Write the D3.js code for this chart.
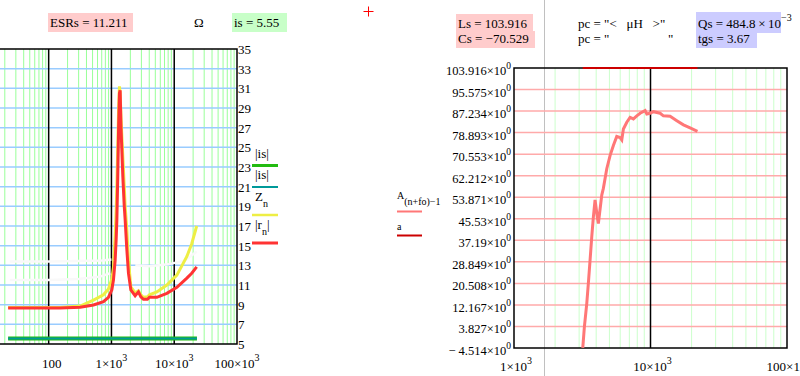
<!DOCTYPE html>
<meta charset="utf-8">
<script src="https://cdnjs.cloudflare.com/ajax/libs/d3/7.8.5/d3.min.js"></script>
<style>
body { margin: 0; background: #fff; }
svg { display: block; font-family: "Liberation Serif", "Times New Roman", serif; font-size: 13px; }
</style>
<body>
<script>

let width = 800,
    height = 376;

// left chart: impedance vs frequency
let leftFreq = [22.6, 100, 152, 317, 517, 746, 896, 1015, 1076, 1145, 1188, 1219, 1260, 1300, 1341, 1376, 1420, 1519, 1600, 1654, 1759, 1866, 2038, 2385, 2692, 2940, 3234, 3746, 4031, 5287, 7630, 11020, 15900, 19000, 22800];
let zVals = [8.7, 8.7, 8.72, 8.86, 9.47, 10.0, 10.6, 11.6, 12.8, 15.9, 18.5, 21, 25, 29, 31.2, 30.5, 28, 24, 21, 19, 16.6, 13.5, 10.8, 10.2, 10.4, 10.0, 9.75, 9.8, 10.0, 10.3, 11.0, 12.0, 13.9, 15.2, 17.0];
let rVals = [8.65, 8.65, 8.65, 8.73, 8.97, 9.3, 9.75, 10.5, 11.5, 13.5, 15.6, 17.6, 22, 27, 30.5, 30.8, 27, 22, 19, 17.6, 14.6, 12.2, 10.5, 9.9, 10.3, 9.8, 9.55, 9.55, 9.75, 9.75, 10.15, 10.77, 11.7, 12.2, 12.85];
let isFreq = [22.6, 23000];
let isVals = [5.55, 5.55];
// faint white traces
let whiteFreq = [24, 100, 300, 700, 1000, null, 2400, 4000, 8000, 15000, 22800];
let whiteVals = [13.4, 13.4, 13.45, 13.5, 13.6, null, 13.0, 12.9, 13.1, 13.5, 14.4];
let white2Freq = [24, 100, 300, 660, 955];
let white2Vals = [11.5, 11.5, 11.6, 11.85, 12.2];

let leftYTicks = [5, 7, 9, 11, 13, 15, 17, 19, 21, 23, 25, 27, 29, 31, 33, 35];
let leftXTicks = [100, 1000, 10000, 100000];
let leftXLabels = [["100", ""], ["1×10", "3"], ["10×10", "3"], ["100×10", "3"]];

// right chart
let aFreq = [3190, 3277, 3412, 3505, 3608, 3713, 3815, 3925, 4080, 4150, 4395, 4515, 4782, 5056, 5346, 5660, 5985, 6160, 6330, 6704, 7088, 7494, 7937, 8390, 9130, 9395, 9933, 10500, 11760, 12430, 13920, 15590, 17430, 19510, 22080];
let aVals = [-4.5, 3.6, 12.7, 20.5, 29.5, 38.6, 46.3, 52.8, 46.0, 43.7, 54.7, 57.3, 64.9, 70.0, 73.9, 77.4, 77.0, 76.1, 80.3, 82.9, 84.8, 84.2, 85.4, 86.4, 87.4, 86.1, 86.4, 87.0, 86.4, 85.4, 85.2, 83.5, 81.9, 80.7, 79.4];
let lineAFreq = [3190, 22080];
let lineAVals = [103.916, 103.916];

let rightYTicks = [103.916, 95.575, 87.234, 78.893, 70.553, 62.212, 53.871, 45.53, 37.19, 28.849, 20.508, 12.167, 3.827, -4.514];
let rightXTicks = [1000, 10000, 100000];
let rightXLabels = [["1×10", "3"], ["10×10", "3"], ["100×10", "3"]];

let svg = d3.select("body").append("svg")
    .attr("width", width)
    .attr("height", height);

// page break line
svg.append("line")
    .attr("x1", 544.5).attr("x2", 544.5)
    .attr("y1", 0).attr("y2", height)
    .attr("stroke", "#c0c0c0");

// ---------- header fields ----------
function field(x, y, w, h, fill, parts) {
  if (fill) svg.append("rect").attr("x", x).attr("y", y).attr("width", w).attr("height", h).attr("fill", fill);
  let t = svg.append("text").attr("x", x + 2).attr("y", y + h - 5).attr("fill", "#000")
      .attr("xml:space", "preserve").style("white-space", "pre");
  parts.forEach(p => {
    if (typeof p === "string") t.append("tspan").text(p);
    else t.append("tspan").attr("dy", -7).style("font-size", "10px").text(p.sup);
  });
}

field(48, 13, 85, 19, "#ffcccc", ["ESRs = 11.211"]);
field(192, 13, 14, 19, null, ["Ω"]);
field(232, 13, 55, 19, "#c8ffc8", ["is = 5.55"]);

// red cross
svg.append("path")
    .attr("d", "M363.5,11.5h10M368.5,6.5v10")
    .attr("stroke", "#ff0000").attr("fill", "none");

field(456, 14, 77, 19, "#ffcccc", ["Ls = 103.916"]);
field(456, 31, 79, 17, "#ffcccc", ["Cs = −70.529"]);
field(576, 14, 110, 19, null, ["pc = \"<   μH   >\""]);
field(576, 31, 110, 17, null, ["pc = \"                  \""]);
field(696, 12, 85, 21, "#ccccff", ["Qs = 484.8\u2009×\u200910", {sup: "−3"}]);
field(696, 31, 61, 17, "#ccccff", ["tgs = 3.67"]);

// ---------- left chart ----------
let xL = d3.scaleLog().domain([10, 100000]).range([-14.1, 237]);
let yL = d3.scaleLinear().domain([5, 35]).range([344, 49]);

let gL = svg.append("g");

// minor vertical grid
let minorL = [];
[10, 100, 1000, 10000].forEach(d => { for (let k = 2; k <= 9; k++) minorL.push(d * k); });
gL.selectAll(".minorL").data(minorL).enter().append("line")
    .attr("x1", d => xL(d)).attr("x2", d => xL(d))
    .attr("y1", yL(35)).attr("y2", yL(5))
    .attr("stroke", "#99ff99").attr("stroke-width", 1);

// horizontal grid
gL.selectAll(".hgridL").data(leftYTicks.slice(1, -1)).enter().append("line")
    .attr("x1", 0).attr("x2", xL(100000))
    .attr("y1", d => yL(d)).attr("y2", d => yL(d))
    .attr("stroke", "#99ccff").attr("stroke-width", 1.5);

// decade lines
gL.selectAll(".majL").data([100, 1000, 10000]).enter().append("line")
    .attr("x1", d => xL(d)).attr("x2", d => xL(d))
    .attr("y1", yL(35)).attr("y2", yL(5))
    .attr("stroke", "#000").attr("stroke-width", 1.5);

// border
gL.append("path")
    .attr("d", `M0,${yL(35)}H${xL(100000)}V${yL(5)}H0`)
    .attr("fill", "none").attr("stroke", "#000").attr("stroke-width", 1.5);

function lineL(fr, vals, color, w) {
  let pts = fr.map((f, i) => [f, vals[i]]);
  gL.append("path")
      .datum(pts)
      .attr("fill", "none")
      .attr("stroke", color)
      .attr("stroke-width", w)
      .attr("d", d3.line().defined(d => d[0] != null).x(d => xL(d[0])).y(d => yL(d[1])));
}

lineL(whiteFreq, whiteVals, "#f9f9f9", 2.5);
lineL(white2Freq, white2Vals, "#f9f9f9", 2.5);
lineL(isFreq, isVals, "#22bb11", 4);
lineL(isFreq, isVals, "#009999", 2);
lineL(leftFreq, zVals, "#eeee44", 3);
lineL(leftFreq, rVals, "#ff3333", 3);

// y labels on right
gL.selectAll(".ylabL").data(leftYTicks).enter().append("text")
    .attr("x", xL(100000) + 1)
    .attr("y", d => yL(d) + 5)
    .text(d => d);

// x labels
leftXTicks.forEach((d, i) => {
  let t = gL.append("text")
      .attr("x", xL(d) + (i == 0 ? 3 : 0))
      .attr("y", 368)
      .attr("text-anchor", "middle");
  t.append("tspan").text(leftXLabels[i][0]);
  if (leftXLabels[i][1]) t.append("tspan").attr("dy", -7).style("font-size", "10px").text(leftXLabels[i][1]);
});

// left legend
let legL = [
  {y: 165.5, color: "#22bb11", w: 3, txt: "|is|"},
  {y: 187, color: "#009999", w: 2, txt: "|is|"},
  {y: 215, color: "#eeee44", w: 2.5, txt: "Z", sub: "n"},
  {y: 243, color: "#ff3333", w: 3, txt: "r", sub: "n", bars: true}
];
legL.forEach(d => {
  svg.append("line")
      .attr("x1", 252).attr("x2", 278)
      .attr("y1", d.y).attr("y2", d.y)
      .attr("stroke", d.color).attr("stroke-width", d.w);
  let t = svg.append("text").attr("x", 255).attr("y", d.y - 8);
  if (d.sub) {
    t.attr("y", d.y - 14);
    if (d.bars) t.append("tspan").text("|");
    t.append("tspan").text(d.txt);
    t.append("tspan").attr("dy", 6).style("font-size", "10px").text(d.sub);
    if (d.bars) t.append("tspan").attr("dy", -6).text("|");
  } else {
    t.text(d.txt);
  }
});

// ---------- right chart ----------
let xR = d3.scaleLog().domain([1000, 100000]).range([514, 787]);
let yR = d3.scaleLinear().domain([-4.514, 103.916]).range([348, 68]);

let gR = svg.append("g");

let minorR = [];
[1000, 10000].forEach(d => { for (let k = 2; k <= 9; k++) minorR.push(d * k); });
gR.selectAll(".minorR").data(minorR).enter().append("line")
    .attr("x1", d => xR(d)).attr("x2", d => xR(d))
    .attr("y1", yR(103.916)).attr("y2", yR(-4.514))
    .attr("stroke", "#ccffcc").attr("stroke-width", 1);

gR.selectAll(".hgridR").data(rightYTicks.slice(1, -1)).enter().append("line")
    .attr("x1", xR(1000)).attr("x2", xR(100000))
    .attr("y1", d => yR(d)).attr("y2", d => yR(d))
    .attr("stroke", "#ffaaaa").attr("stroke-width", 1.5);

gR.append("line")
    .attr("x1", xR(10000)).attr("x2", xR(10000))
    .attr("y1", yR(103.916)).attr("y2", yR(-4.514))
    .attr("stroke", "#000").attr("stroke-width", 1.5);

gR.append("rect")
    .attr("x", xR(1000)).attr("y", yR(103.916))
    .attr("width", xR(100000) - xR(1000))
    .attr("height", yR(-4.514) - yR(103.916))
    .attr("fill", "none").attr("stroke", "#000").attr("stroke-width", 1.5);

function lineR(fr, vals, color, w) {
  let pts = fr.map((f, i) => [f, vals[i]]);
  gR.append("path")
      .datum(pts)
      .attr("fill", "none")
      .attr("stroke", color)
      .attr("stroke-width", w)
      .attr("d", d3.line().x(d => xR(d[0])).y(d => yR(d[1])));
}

lineR(aFreq, aVals, "#ff7777", 3);
lineR(lineAFreq, lineAVals, "#cc0000", 2);

// y labels
rightYTicks.forEach(d => {
  let t = gR.append("text")
      .attr("x", 511)
      .attr("y", yR(d) + 7)
      .attr("text-anchor", "end")
      .style("font-size", "12.5px");
  t.append("tspan").text((d < 0 ? "− " + (-d) : d) + "×10");
  t.append("tspan").attr("dy", -6).style("font-size", "9.5px").text("0");
});

rightXTicks.forEach((d, i) => {
  let t = gR.append("text")
      .attr("x", xR(d) + 2)
      .attr("y", 371)
      .attr("text-anchor", "middle");
  t.append("tspan").text(rightXLabels[i][0]);
  t.append("tspan").attr("dy", -7).style("font-size", "10px").text(rightXLabels[i][1]);
});

// right legend
svg.append("line")
    .attr("x1", 397).attr("x2", 422).attr("y1", 211.5).attr("y2", 211.5)
    .attr("stroke", "#ff7777").attr("stroke-width", 2);
let tA = svg.append("text").attr("x", 397).attr("y", 199).style("font-size", "10px");
tA.append("tspan").text("A");
tA.append("tspan").attr("dy", 6).text("(n+fo)−1");
svg.append("line")
    .attr("x1", 397).attr("x2", 422).attr("y1", 235.5).attr("y2", 235.5)
    .attr("stroke", "#cc0000").attr("stroke-width", 2);
svg.append("text").attr("x", 397).attr("y", 230).style("font-size", "10px").text("a");

</script>
